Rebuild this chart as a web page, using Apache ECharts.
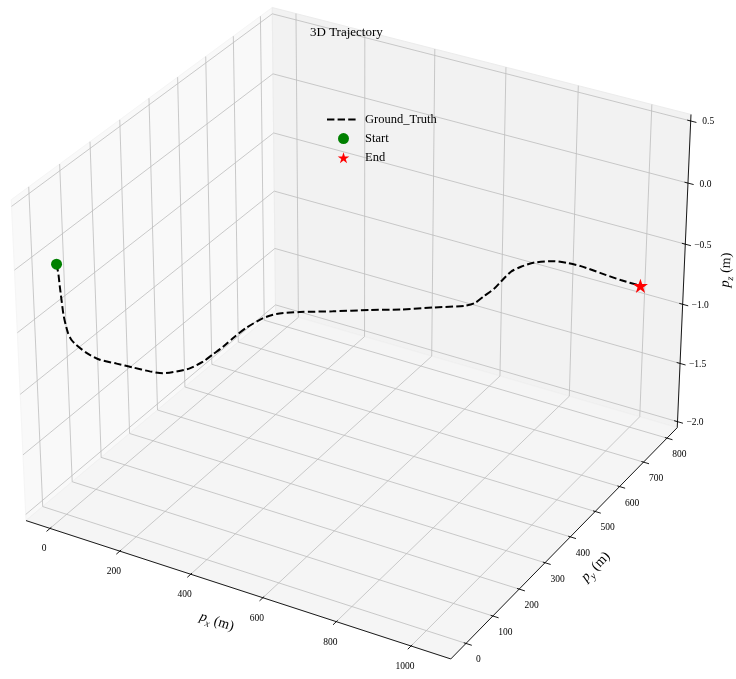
<!DOCTYPE html>
<html>
<head>
<meta charset="utf-8">
<script src="https://cdn.jsdelivr.net/npm/echarts@6/dist/echarts.min.js"></script>
<style>html,body{margin:0;padding:0;background:#fff}#c{width:736px;height:679px}</style>
</head>
<body>
<div id="c"></div>
<script>
// ---------- data ----------
const px = [0, 2.5, 4.0, 6.0, 8.6, 14.7, 20.3, 27.3, 45.0, 67.4, 95.8, 124.0, 152.6, 175.5, 198.7, 221.9, 245.2, 262.9, 280.6, 301.2, 321.8, 351.0, 374.4, 415.2, 473.1, 538.3, 593.8, 653.2, 706.8, 724.7, 742.4, 760.1, 771.7, 789.3, 807.1, 831.0, 866.9, 890.9, 915.1, 951.7, 988.5, 1025.0];
const py = [0, 1.9, 3.1, 4.6, 6.6, 11.3, 15.5, 20.9, 34.4, 51.6, 73.4, 95.0, 116.8, 134.4, 152.1, 169.9, 187.8, 201.3, 214.9, 230.7, 246.5, 268.8, 286.8, 318.0, 362.4, 412.3, 454.8, 500.3, 541.3, 555.0, 568.6, 582.1, 591.0, 604.5, 618.1, 636.4, 663.9, 682.3, 700.8, 728.8, 757.0, 785.0];
const pz = [0.00, -0.08, -0.18, -0.29, -0.42, -0.56, -0.62, -0.66, -0.74, -0.81, -0.86, -0.91, -0.96, -0.99, -0.99, -0.98, -0.94, -0.89, -0.84, -0.77, -0.71, -0.65, -0.63, -0.64, -0.67, -0.70, -0.73, -0.75, -0.77, -0.76, -0.71, -0.66, -0.61, -0.54, -0.51, -0.49, -0.50, -0.53, -0.57, -0.65, -0.73, -0.80];

const xTicks = [0, 200, 400, 600, 800, 1000];
const yTicks = [0, 100, 200, 300, 400, 500, 600, 700, 800];
const zTicks = [-2.0, -1.5, -1.0, -0.5, 0.0, 0.5];
const zTickLabels = ['\u22122.0', '\u22121.5', '\u22121.0', '\u22120.5', '0.0', '0.5'];

// axis box extents (data units)
const xBox = [-69.7, 1105.1];
const yBox = [-55.7, 844.2];
const zBox = [-2.052, 0.552];

// ---------- 3D view (matplotlib-style perspective) ----------
const ELEV = 30, AZIM = -60, DIST = 10;
const ASPECT = [4, 4, 3];
const an = Math.hypot(ASPECT[0], ASPECT[1], ASPECT[2]);
const BA = ASPECT.map(v => v * 1.8294640721620434 / an);
const er = ELEV * Math.PI / 180, ar = AZIM * Math.PI / 180;
const W = [Math.cos(er) * Math.cos(ar), Math.cos(er) * Math.sin(ar), Math.sin(er)];
let U = [-W[1], W[0], 0];
const un = Math.hypot(U[0], U[1], U[2]);
U = U.map(v => v / un);
const V = [W[1] * U[2] - W[2] * U[1], W[2] * U[0] - W[0] * U[2], W[0] * U[1] - W[1] * U[0]];

function project(x, y, z) {
  const q = [
    ((x - xBox[0]) / (xBox[1] - xBox[0]) - 0.5) * BA[0],
    ((y - yBox[0]) / (yBox[1] - yBox[0]) - 0.5) * BA[1],
    ((z - zBox[0]) / (zBox[1] - zBox[0]) - 0.5) * BA[2]
  ];
  const dot = A => A[0] * q[0] + A[1] * q[1] + A[2] * q[2];
  const d = DIST - dot(W);
  return [dot(U) / d, dot(V) / d];
}

// 2D window of projected coordinates shown on the canvas
const viewX = [-0.083907, 0.088884];
const viewY = [-0.084528, 0.074548];

const FONT = 'Liberation Serif, Times New Roman, serif';
const lineData = px.map((_, i) => project(px[i], py[i], pz[i]));
const startData = [project(px[0], py[0], pz[0])];
const n = px.length - 1;
const endData = [project(px[n], py[n], pz[n])];

const STAR = 'path://M100,0 L122.45,69.1 L195.11,69.1 L136.33,111.8 L158.78,180.9 L100,138.2 L41.22,180.9 L63.67,111.8 L4.89,69.1 L77.55,69.1 Z';
const DASH_ICON = 'path://M0,0H7.4V2H0Z M10.6,0H18V2H10.6Z M21.2,0H28.6V2H21.2Z M33,0L33,2';

function renderBox(params, api) {
  const P = (x, y, z) => api.coord(project(x, y, z));
  const [x0, x1] = xBox, [y0, y1] = yBox, [z0, z1] = zBox;
  const xr = x1 - x0, yr = y1 - y0;
  const ch = [];
  const poly = (pts, fill, stroke) => ch.push({type: 'polygon', shape: {points: pts}, style: {fill: fill, stroke: stroke, lineWidth: 1}});
  const seg = (a, b, color, w) => ch.push({type: 'line', shape: {x1: a[0], y1: a[1], x2: b[0], y2: b[1]}, style: {stroke: color, lineWidth: w}});
  const txt = (p, s, dx, dy) => ch.push({type: 'text', x: p[0] + dx, y: p[1] + dy, style: {text: s, fill: '#000', fontSize: 9.5, fontFamily: FONT, align: 'center', verticalAlign: 'middle'}});

  // panes
  poly([P(x0, y0, z0), P(x0, y0, z1), P(x0, y1, z1), P(x0, y1, z0)], '#f9f9f9', '#f5f5f5');
  poly([P(x0, y1, z0), P(x0, y1, z1), P(x1, y1, z1), P(x1, y1, z0)], '#f2f2f2', '#ececec');
  poly([P(x0, y0, z0), P(x1, y0, z0), P(x1, y1, z0), P(x0, y1, z0)], '#f5f5f5', '#f1f1f1');

  // grid lines
  const GC = '#bcbcbc', GW = 0.8;
  xTicks.forEach(t => {
    seg(P(t, y1, z0), P(t, y1, z1), GC, GW);
    seg(P(t, y0, z0), P(t, y1, z0), GC, GW);
  });
  yTicks.forEach(t => {
    seg(P(x0, t, z0), P(x0, t, z1), GC, GW);
    seg(P(x0, t, z0), P(x1, t, z0), GC, GW);
  });
  zTicks.forEach(t => {
    seg(P(x0, y0, t), P(x0, y1, t), GC, GW);
    seg(P(x0, y1, t), P(x1, y1, t), GC, GW);
  });

  // axis lines
  const AC = '#000', AW = 0.9;
  seg(P(x0, y0, z0), P(x1, y0, z0), AC, AW);
  seg(P(x1, y0, z0), P(x1, y1, z0), AC, AW);
  seg(P(x1, y1, z0), P(x1, y1, z1), AC, AW);

  // ticks + labels
  const inF = 0.005, outF = 0.013;
  xTicks.forEach(t => {
    seg(P(t, y0 + inF * yr, z0), P(t, y0 - outF * yr, z0), AC, AW);
    txt(P(t, y0, z0), String(t), -6, 20.5);
  });
  yTicks.forEach(t => {
    seg(P(x1 - inF * xr, t, z0), P(x1 + outF * xr, t, z0), AC, AW);
    txt(P(x1, t, z0), String(t), 12.5, 16.5);
  });
  zTicks.forEach((t, i) => {
    seg(P(x1 - 0.008 * xr, y1, t), P(x1 + outF * xr, y1, t), AC, AW);
    txt(P(x1, y1, t), zTickLabels[i], 17.5, 1);
  });

  // axis titles
  const rich = {
    i: {fontFamily: FONT, fontStyle: 'italic', fontSize: 14, lineHeight: 20, fill: '#000'},
    s: {fontFamily: FONT, fontStyle: 'italic', fontSize: 10, lineHeight: 12, verticalAlign: 'bottom', fill: '#000'},
    n: {fontFamily: FONT, fontSize: 14, lineHeight: 20, fill: '#000'}
  };
  const title = (p, sub, dx, dy, rot) => ch.push({type: 'text', x: p[0] + dx, y: p[1] + dy, rotation: rot,
    style: {text: '{i|p}{s|' + sub + '}{n| (m)}', rich: rich, align: 'center', verticalAlign: 'middle', fontFamily: FONT, fontSize: 14}});
  const xm = (x0 + x1) / 2, ym = (y0 + y1) / 2, zm = (z0 + z1) / 2;
  title(P(xm, y0, z0), 'x', -16.3, 33.7, -18 * Math.PI / 180);
  title(P(x1, ym, z0), 'y', 26.8, 28.4, 46 * Math.PI / 180);
  title(P(x1, y1, zm), 'z', 42, -4.4, 87 * Math.PI / 180);

  return {type: 'group', children: ch};
}

const chart = echarts.init(document.getElementById('c'), null, {renderer: 'canvas'});
chart.setOption({
  animation: false,
  backgroundColor: '#ffffff',
  title: {
    text: '3D Trajectory', left: 305, top: 21,
    textStyle: {fontFamily: FONT, fontSize: 13, fontWeight: 'normal', color: '#000'}
  },
  legend: {
    orient: 'vertical', left: 327, top: 112.5, padding: 0,
    itemWidth: 33, itemHeight: 11, itemGap: 5.1,
    textStyle: {fontFamily: FONT, fontSize: 12.5, color: '#000', lineHeight: 14},
    data: [
      {name: 'Ground_Truth', icon: DASH_ICON, itemStyle: {color: '#000'}},
      {name: 'Start'},
      {name: 'End'}
    ]
  },
  grid: {left: 0, right: 0, top: 0, bottom: 0},
  xAxis: {type: 'value', min: viewX[0], max: viewX[1], show: false},
  yAxis: {type: 'value', min: viewY[0], max: viewY[1], show: false},
  series: [
    {
      type: 'custom', name: 'box', silent: true, z: 1,
      data: [[0, 0]], renderItem: renderBox
    },
    {
      type: 'line', name: 'Ground_Truth', z: 5, data: lineData,
      symbol: 'none', showSymbol: false, smooth: 0.25, clip: false,
      lineStyle: {color: '#000', width: 2, type: [7.4, 3.2]},
      itemStyle: {color: '#000'}
    },
    {
      type: 'scatter', name: 'Start', z: 6, data: startData,
      symbol: 'circle', symbolSize: 11, itemStyle: {color: '#008000', opacity: 1}
    },
    {
      type: 'scatter', name: 'End', z: 6, data: endData,
      symbol: STAR, symbolSize: 15, symbolKeepAspect: true, itemStyle: {color: '#ff0000', opacity: 1}
    }
  ]
});
</script>
</body>
</html>
